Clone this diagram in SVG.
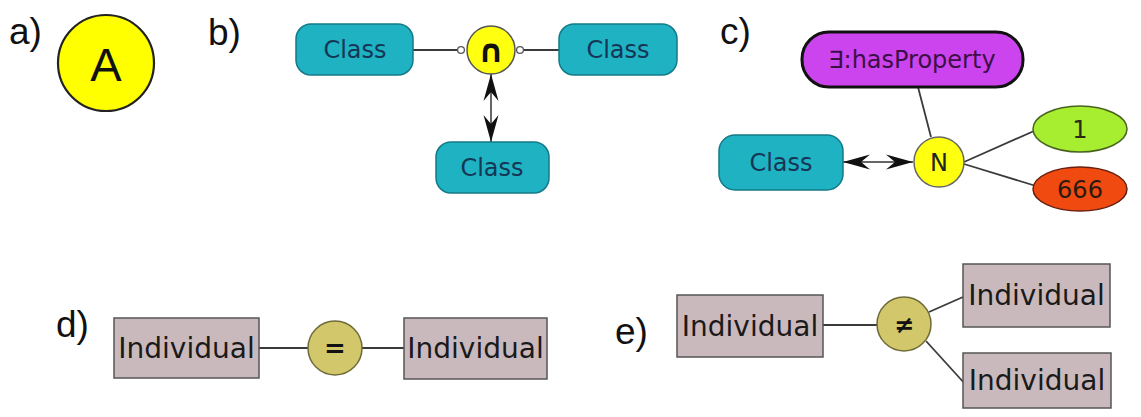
<svg xmlns="http://www.w3.org/2000/svg" width="1141" height="417" viewBox="0 0 1141 417">
<style>
.lbl{font-family:"Liberation Sans",Arial,sans-serif;font-size:37px;fill:#111}
.cls{fill:#1fb2c2;stroke:#137a88;stroke-width:1.5}
.clsT{font-family:"DejaVu Sans",sans-serif;font-size:24px;fill:#163656;text-anchor:middle}
.ind{fill:#c9b9bd;stroke:#555;stroke-width:1.5}
.indT{font-family:"DejaVu Sans",sans-serif;font-size:28px;fill:#1a1a1a;text-anchor:middle}
.eq{fill:#d3c76b;stroke:#6f6a3a;stroke-width:1.5}
.sym{font-family:"DejaVu Sans",sans-serif;font-weight:bold;fill:#111;text-anchor:middle}
.ln{stroke:#3a3a3a;stroke-width:1.8;fill:none}
.arr{stroke:#333;stroke-width:1.5;fill:none;marker-start:url(#ah);marker-end:url(#ah)}
</style>
<defs>
<marker id="ah" markerUnits="userSpaceOnUse" markerWidth="30" markerHeight="18" viewBox="0 -9 28 18" refX="27" refY="0" orient="auto-start-reverse">
<path d="M0,-7.5 L27,0 L0,7.5 L9,0 Z" fill="#111"/>
</marker>
</defs>
<rect width="1141" height="417" fill="#fff"/>
<g id="labels">
<text class="lbl" x="9" y="44">a)</text>
<text class="lbl" x="208" y="45">b)</text>
<text class="lbl" x="720" y="44">c)</text>
<text class="lbl" x="56" y="337">d)</text>
<text class="lbl" x="615" y="344">e)</text>
</g>
<g id="connectors">
<line class="ln" x1="413" y1="50" x2="459" y2="50"/>
<line class="ln" x1="522" y1="50" x2="559" y2="50"/>
<line class="arr" x1="491" y1="74" x2="491" y2="142"/>
<line class="arr" x1="843" y1="162" x2="913" y2="162"/>
<line class="ln" x1="918" y1="87" x2="931" y2="137"/>
<line class="ln" x1="964" y1="162" x2="1034" y2="131"/>
<line class="ln" x1="964" y1="164" x2="1036" y2="186"/>
<line class="ln" x1="259" y1="348" x2="308" y2="348"/>
<line class="ln" x1="362" y1="348" x2="404" y2="348"/>
<line class="ln" x1="823" y1="325" x2="877" y2="325"/>
<line class="ln" x1="929" y1="312" x2="963" y2="297"/>
<line class="ln" x1="926" y1="341" x2="966" y2="385"/>
<circle cx="461" cy="50" r="3.4" fill="#fff" stroke="#555" stroke-width="1.3"/>
<circle cx="520" cy="50" r="3.4" fill="#fff" stroke="#555" stroke-width="1.3"/>
</g>
<g id="nodeA">
<circle cx="106" cy="63" r="48" fill="#ffff00" stroke="#222" stroke-width="2.2"/>
<text x="106" y="81" font-family="Liberation Sans,Arial,sans-serif" font-size="47" fill="#111" text-anchor="middle">A</text>
</g>
<g id="b-class-left">
<rect class="cls" x="296" y="24" width="117" height="51" rx="15"/>
<text class="clsT" x="355" y="58">Class</text>
</g>
<g id="b-class-right">
<rect class="cls" x="559" y="24" width="118" height="51" rx="15"/>
<text class="clsT" x="618" y="58">Class</text>
</g>
<g id="b-intersection">
<circle cx="491" cy="50" r="24" fill="#ffff10" stroke="#555" stroke-width="1.5"/>
<text class="sym" x="491" y="62" font-size="32">∩</text>
</g>
<g id="b-class-bottom">
<rect class="cls" x="436" y="142" width="113" height="51" rx="15"/>
<text class="clsT" x="492" y="176">Class</text>
</g>
<g id="c-property">
<rect x="802" y="32" width="221" height="55" rx="27" fill="#cc44ee" stroke="#111" stroke-width="3"/>
<text x="912" y="68" font-family="DejaVu Sans,sans-serif" font-size="24" fill="#3b1048" text-anchor="middle">∃:hasProperty</text>
</g>
<g id="c-class">
<rect class="cls" x="719" y="135" width="124" height="55" rx="16"/>
<text class="clsT" x="781" y="171">Class</text>
</g>
<g id="c-N">
<circle cx="939" cy="162" r="25" fill="#ffff10" stroke="#666" stroke-width="1.5"/>
<text x="939" y="171" font-family="DejaVu Sans,sans-serif" font-size="24" fill="#222" text-anchor="middle">N</text>
</g>
<g id="c-one">
<ellipse cx="1080" cy="129" rx="47" ry="23" fill="#a8ee30" stroke="#4a6420" stroke-width="1.5"/>
<text x="1080" y="138" font-family="DejaVu Sans,sans-serif" font-size="24" fill="#2a2a10" text-anchor="middle">1</text>
</g>
<g id="c-666">
<ellipse cx="1080" cy="189" rx="47" ry="22" fill="#f04a10" stroke="#6a2010" stroke-width="1.5"/>
<text x="1080" y="198" font-family="DejaVu Sans,sans-serif" font-size="24" fill="#2a1a10" text-anchor="middle">666</text>
</g>
<g id="d-ind-left">
<rect class="ind" x="114" y="318" width="145" height="60"/>
<text class="indT" x="186.5" y="358">Individual</text>
</g>
<g id="d-same">
<circle class="eq" cx="335" cy="348" r="27"/>
<text class="sym" x="335" y="357" font-size="26">=</text>
</g>
<g id="d-ind-right">
<rect class="ind" x="404" y="318" width="143" height="61"/>
<text class="indT" x="475.5" y="358">Individual</text>
</g>
<g id="e-ind-left">
<rect class="ind" x="677" y="295" width="146" height="62"/>
<text class="indT" x="750" y="336">Individual</text>
</g>
<g id="e-different">
<circle class="eq" cx="904" cy="324" r="27"/>
<text class="sym" x="904" y="333" font-size="24">≠</text>
</g>
<g id="e-ind-top">
<rect class="ind" x="963" y="264" width="147" height="63"/>
<text class="indT" x="1036.5" y="305">Individual</text>
</g>
<g id="e-ind-bottom">
<rect class="ind" x="963" y="353" width="148" height="55"/>
<text class="indT" x="1037" y="390">Individual</text>
</g>
</svg>
